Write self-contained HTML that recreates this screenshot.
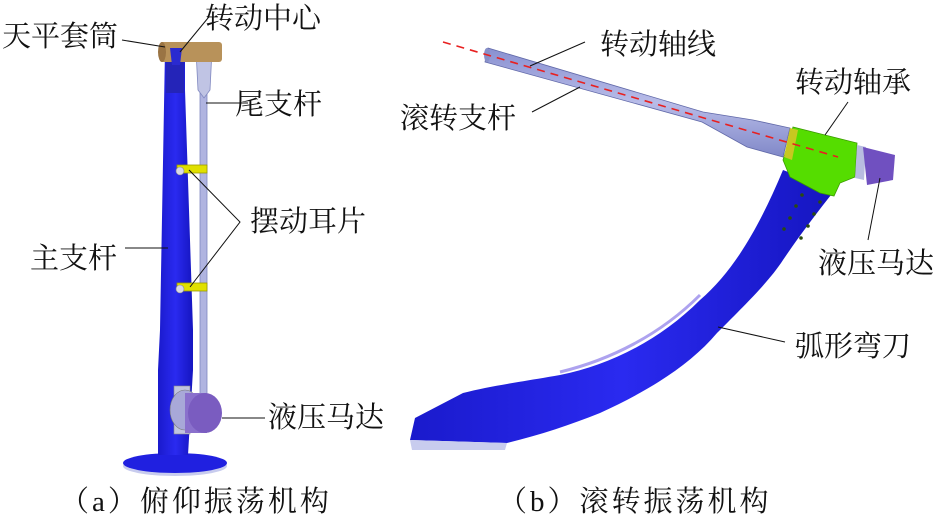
<!DOCTYPE html>
<html><head><meta charset="utf-8"><style>
html,body{margin:0;padding:0;background:#fff;}
svg{display:block}
text{font-family:"Liberation Serif","Noto Serif CJK SC",serif;font-size:29px;fill:#111;}
</style></head><body>
<svg width="945" height="525" viewBox="0 0 945 525" xmlns="http://www.w3.org/2000/svg">
<defs>
<linearGradient id="blue" x1="0" x2="1" y1="0" y2="0"><stop offset="0" stop-color="#1a1acc"/><stop offset="0.5" stop-color="#2a2af0"/><stop offset="1" stop-color="#1515c0"/></linearGradient>
<linearGradient id="rod" x1="0" x2="0" y1="0" y2="1"><stop offset="0" stop-color="#8890d0"/><stop offset="0.5" stop-color="#b8bce8"/><stop offset="1" stop-color="#8088c8"/></linearGradient>
</defs>
<!-- LEFT FIGURE -->
<ellipse cx="175" cy="466" rx="52" ry="10" fill="#c8ccee"/>
<ellipse cx="175" cy="463" rx="52" ry="10" fill="#2020e0"/>
<rect x="200" y="90" width="7" height="310" fill="#b0b4e0" stroke="#8088c0" stroke-width="0.8"/>
<path d="M196 50 L212 50 L210 90 L204 98 L198 90 Z" fill="#c0c4e4" stroke="#8088c0" stroke-width="0.8"/>
<path d="M165 50 L185 50 L185 90 L193 330 L193 370 L188 455 L158 455 L158 370 L160 330 Z" fill="url(#blue)"/>
<rect x="166" y="55" width="18" height="38" fill="#2424b8"/>
<rect x="160" y="42" width="62" height="20" rx="3" fill="#b8925a"/>
<ellipse cx="162" cy="52" rx="4" ry="10" fill="#9a7444"/>
<path d="M170 48 L182 48 L180 65 L172 65 Z" fill="#2a2ad0"/>
<rect x="177" y="165" width="30" height="8" fill="#e0e000" stroke="#999900" stroke-width="0.8"/>
<circle cx="180" cy="171" r="4" fill="#d8d8e8" stroke="#888" stroke-width="0.6"/>
<rect x="177" y="283" width="30" height="8" fill="#e0e000" stroke="#999900" stroke-width="0.8"/>
<circle cx="180" cy="289" r="4" fill="#d8d8e8" stroke="#888" stroke-width="0.6"/>
<rect x="174" y="386" width="16" height="48" fill="#c0c4e0" stroke="#888" stroke-width="0.6"/>
<ellipse cx="185" cy="410" rx="15" ry="20" fill="#a8a8d8" stroke="#777" stroke-width="0.6"/>
<path d="M185 393 L207 393 L207 433 L185 433 Z" fill="#8a70cc"/>
<ellipse cx="205" cy="413" rx="17" ry="20" fill="#7a5cc0"/>
<!-- RIGHT FIGURE -->
<path d="M783 170 C760 225 735 270 700 300 C660 340 610 365 560 375 C520 382 490 386 463 393 L415 418 L410 440 L507 443 C540 435 570 425 600 413 C650 390 690 365 717 333 C750 300 770 280 783 260 C800 235 815 215 835 190 Z" fill="url(#blue)"/>
<path d="M700 295 C660 335 610 360 560 372" stroke="#8a7ae8" stroke-width="3" fill="none" opacity="0.7"/>
<path d="M410 440 L507 443 L505 450 L412 450 Z" fill="#c8ccee"/>
<g fill="#2a4a10">
<circle cx="802" cy="195" r="1.8"/><circle cx="796" cy="206" r="1.8"/><circle cx="790" cy="218" r="1.8"/><circle cx="784" cy="229" r="1.8"/>
<circle cx="820" cy="202" r="1.8"/><circle cx="814" cy="214" r="1.8"/><circle cx="808" cy="226" r="1.8"/><circle cx="801" cy="238" r="1.8"/>
</g>
<path d="M488 48 L703 112 L753 120 L790 128 L783 157 L747 147 L702 122 L485 62 Z" fill="url(#rod)" stroke="#6068a8" stroke-width="0.8"/>
<ellipse cx="487" cy="55" rx="3" ry="7" fill="#8890c8"/>
<path d="M793 127 L857 143 L855 177 L840 183 L834 196 L820 193 L790 177 L783 160 Z" fill="#55dd00" stroke="#3a9a00" stroke-width="0.8"/>
<path d="M790 128 L798 130 L792 160 L784 157 Z" fill="#c8c820"/>
<path d="M857 145 L866 147 L864 180 L855 178 Z" fill="#b8bce0"/>
<path d="M863 147 L895 155 L893 180 L867 185 Z" fill="#7050c0"/>
<line x1="443" y1="42" x2="838" y2="157" stroke="#e82020" stroke-width="1.6" stroke-dasharray="8,6"/>
<g stroke="#111" stroke-width="1" fill="none">
<line x1="122" y1="40" x2="165" y2="47"/>
<line x1="208" y1="18" x2="180" y2="52"/>
<line x1="206" y1="103" x2="248" y2="103"/>
<polyline points="189,170 240,222 190,287"/>
<line x1="125" y1="248" x2="168" y2="248"/>
<line x1="222" y1="418" x2="265" y2="418"/>
<line x1="585" y1="42" x2="530" y2="66"/>
<line x1="532" y1="112" x2="580" y2="87"/>
<line x1="848" y1="102" x2="825" y2="135"/>
<line x1="868" y1="240" x2="880" y2="178"/>
<line x1="785" y1="342" x2="718" y2="327"/>
</g>
<text x="2" y="46">天平套筒</text>
<text x="205" y="28">转动中心</text>
<text x="235" y="114">尾支杆</text>
<text x="250" y="231">摆动耳片</text>
<text x="30" y="268">主支杆</text>
<text x="268" y="427">液压马达</text>
<text x="60" y="511" style="letter-spacing:3px">（a）俯仰振荡机构</text>
<text x="600" y="54">转动轴线</text>
<text x="400" y="128">滚转支杆</text>
<text x="795" y="92">转动轴承</text>
<text x="818" y="273">液压马达</text>
<text x="795" y="356">弧形弯刀</text>
<text x="498" y="511" style="letter-spacing:3px">（b）滚转振荡机构</text>
</svg>
</body></html>
